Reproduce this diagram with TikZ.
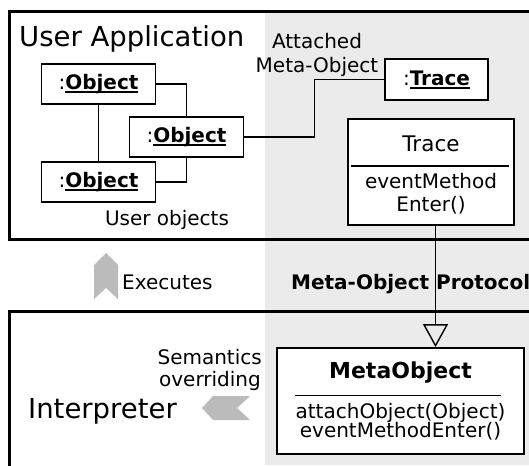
\documentclass[tikz,border=0pt]{standalone}
\usepackage{fontspec}
\setmainfont{DejaVu Sans}
\usetikzlibrary{arrows.meta}
\usetikzlibrary{positioning}
\definecolor{panel-grey}{RGB}{235, 235, 235}
\definecolor{arrow-grey}{RGB}{187, 187, 187}
\newcommand{\objname}[1]{\setbox0\hbox{\textbf{#1}}\rlap{\rule[-3.5pt]{\wd0}{1.8pt}}\box0}

\begin{document}
\begin{tikzpicture}[x=1pt, y=-1pt,
    frame/.style={draw=black, line width=3.8pt},
    objbox/.style={draw=black, fill=white, line width=1.8pt, inner sep=0pt,
        minimum width=114pt, minimum height=40pt, font=\fontsize{20}{24}\selectfont},
    classbox/.style={draw=black, fill=white, line width=1.8pt, inner sep=0pt},
    lbl/.style={inner sep=0pt, font=\fontsize{20}{24}\selectfont},
    biglbl/.style={inner sep=0pt, font=\fontsize{27.5}{30}\selectfont},
    link/.style={draw=black, line width=1.4pt}]
\useasboundingbox (0,0) rectangle (529,465);
\clip (0,0) rectangle (529,465);
\fill[panel-grey] (265,11.5) rectangle (529,465);
\draw[frame] (9.5,11.5) rectangle (600,239.5);
\draw[frame] (600,311.5) -| (9.5,600);

% user application
\node[biglbl, anchor=base west] (userapp) at (19,47) {User Application};
\node[objbox] (obj1) at (98.5,84) {:\objname{Object}};
\node[objbox] (obj2) at (186.5,137) {:\objname{Object}};
\node[objbox] (obj3) at (98.5,182) {:\objname{Object}};
\draw[link] (obj1.east) -| (obj2.north);
\draw[link] (obj3.east) -| (obj2.south);
\draw[link] (obj1.south) -- (obj3.north);
\node[lbl] (userobj) at (167,220) {User objects};

% attached meta-object
\node[objbox, minimum width=103pt, minimum height=41pt] (traceobj) at (436.5,79.5) {:\objname{Trace}};
\node[lbl, align=center] (attached) at (317,54.7) {Attached\\Meta-Object};
\draw[link] (obj2.east) -- ++(70,0) |- (traceobj.west);

\node[classbox, minimum width=166pt, minimum height=106pt] (traceclass) at (431,172) {};
\node[lbl, anchor=base, font=\fontsize{21.5}{24}\selectfont] (tracename) at (431,151.7) {Trace};
\draw[link] ([xshift=4pt,yshift=-47.7pt]traceclass.north west) -- ([xshift=-6pt,yshift=-47.7pt]traceclass.north east);
\node[lbl, anchor=base] (tracemeth1) at (431,188) {eventMethod};
\node[lbl, anchor=base] (tracemeth2) at (431,211.7) {Enter()};

% between the layers
\fill[arrow-grey] (94,265) -- (106,253) -- (118,265) -- (118,299) -- (106,288) -- (94,299) -- cycle;
\node[lbl, anchor=base west] (executes) at (122,289) {Executes};
\node[lbl, anchor=base west, font=\bfseries\fontsize{20}{24}\selectfont] (mop) at (291,289) {Meta-Object Protocol};

% interpreter
\node[biglbl, anchor=base west] (interp) at (28,418) {Interpreter};
\node[lbl, anchor=base east] (semantics) at (262,364) {Semantics};
\node[lbl, anchor=base east] (overriding) at (261,386.7) {overriding};
\fill[arrow-grey] (250,396) -- (213,396) -- (202,408) -- (213,420) -- (250,420) -- (237,408) -- cycle;

\node[classbox, minimum width=247pt, minimum height=106pt] (metaobj) at (400.5,401) {};
\node[lbl, anchor=base, font=\bfseries\fontsize{22}{24}\selectfont] (metaname) at (400.5,378.3) {MetaObject};
\draw[link] ([xshift=19pt,yshift=-48.3pt]metaobj.north west) -- ([xshift=-24pt,yshift=-48.3pt]metaobj.north east);
\node[lbl, anchor=base] (metameth1) at (400.5,418.3) {attachObject(Object)};
\node[lbl, anchor=base] (metameth2) at (400.5,437.3) {eventMethodEnter()};

\draw[link, -{Triangle[open, length=23pt, width=25pt]}] ([xshift=4.5pt]traceclass.south) -- ([xshift=4.5pt]traceclass.south |- metaobj.north);
\end{tikzpicture}
\end{document}
